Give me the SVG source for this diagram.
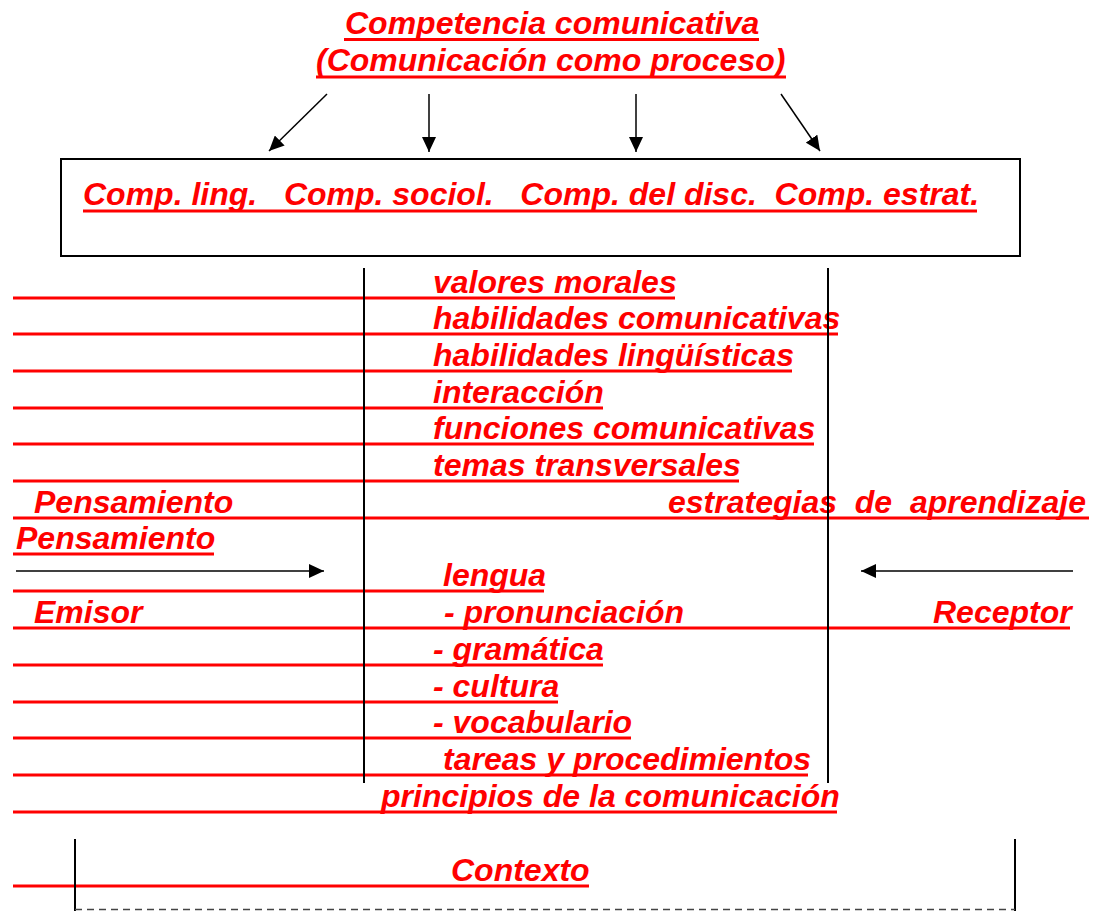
<svg xmlns="http://www.w3.org/2000/svg" width="1103" height="911" viewBox="0 0 1103 911">
<style>
.t{font-family:"Liberation Sans",Arial,sans-serif;font-weight:bold;font-style:italic;font-size:32px;fill:#ff0000}
.u{stroke:#ff0000;stroke-width:3;fill:none}
.k{stroke:#000;stroke-width:2;fill:none}
.a{stroke:#000;stroke-width:1.5;fill:none;marker-end:url(#ah)}
</style>
<defs>
<marker id="ah" markerUnits="userSpaceOnUse" markerWidth="15" markerHeight="14" refX="15" refY="7" orient="auto">
<path d="M0,0 L15,7 L0,14 z" fill="#000"/>
</marker>
</defs>
<rect width="1103" height="911" fill="#fff"/>
<g id="title">
<text class="t" x="345" y="34">Competencia comunicativa</text>
<line class="u" x1="344" y1="39.5" x2="759" y2="39.5"/>
<text class="t" x="316" y="71">(Comunicación como proceso)</text>
<line class="u" x1="316" y1="77" x2="786" y2="77"/>
</g>
<g id="components">
<rect class="k" x="61" y="159" width="959" height="97"/>
<text class="t" x="83" y="205" xml:space="preserve">Comp. ling.   Comp. sociol.   Comp. del disc.  Comp. estrat.</text>
<line class="u" x1="83" y1="211" x2="977" y2="211"/>
</g>
<g id="rows">
<line class="u" x1="13" y1="298" x2="675" y2="298"/>
<text class="t" x="433" y="293">valores morales</text>
<line class="u" x1="13" y1="334" x2="838" y2="334"/>
<text class="t" x="433" y="329">habilidades comunicativas</text>
<line class="u" x1="13" y1="371" x2="792" y2="371"/>
<text class="t" x="433" y="366">habilidades lingüísticas</text>
<line class="u" x1="13" y1="408" x2="603" y2="408"/>
<text class="t" x="433" y="403">interacción</text>
<line class="u" x1="13" y1="444" x2="814" y2="444"/>
<text class="t" x="433" y="439">funciones comunicativas</text>
<line class="u" x1="13" y1="481" x2="739" y2="481"/>
<text class="t" x="433" y="476">temas transversales</text>
<line class="u" x1="13" y1="518" x2="1089" y2="518"/>
<text class="t" x="34" y="513">Pensamiento</text>
<text class="t" x="668" y="513" xml:space="preserve">estrategias  de  aprendizaje</text>
<line class="u" x1="13" y1="554" x2="214" y2="554"/>
<text class="t" x="16" y="549">Pensamiento</text>
<line class="u" x1="13" y1="591" x2="544" y2="591"/>
<text class="t" x="443" y="586">lengua</text>
<line class="u" x1="13" y1="628" x2="1070" y2="628"/>
<text class="t" x="34" y="623">Emisor</text>
<text class="t" x="444" y="623">- pronunciación</text>
<text class="t" x="933" y="623">Receptor</text>
<line class="u" x1="13" y1="665" x2="603" y2="665"/>
<text class="t" x="433" y="660">- gramática</text>
<line class="u" x1="13" y1="702" x2="558" y2="702"/>
<text class="t" x="433" y="697">- cultura</text>
<line class="u" x1="13" y1="738" x2="631" y2="738"/>
<text class="t" x="433" y="733">- vocabulario</text>
<line class="u" x1="13" y1="775" x2="808" y2="775"/>
<text class="t" x="443" y="770">tareas y procedimientos</text>
<line class="u" x1="13" y1="812" x2="837" y2="812"/>
<text class="t" x="381" y="807">principios de la comunicación</text>
</g>
<g id="context">
<line class="u" x1="13" y1="886" x2="589" y2="886"/>
<text class="t" x="451" y="881">Contexto</text>
<line class="k" x1="75" y1="839" x2="75" y2="911"/>
<line class="k" x1="1015" y1="839" x2="1015" y2="911"/>
<line x1="75" y1="909.5" x2="1015" y2="909.5" stroke="#444" stroke-width="1.5" stroke-dasharray="7,5"/>
</g>
<g id="dividers">
<line class="k" x1="364" y1="268" x2="364" y2="783"/>
<line class="k" x1="828" y1="268" x2="828" y2="783"/>
</g>
<g id="connectors">
<line class="a" x1="327" y1="94" x2="269" y2="151"/>
<line class="a" x1="429" y1="94" x2="429" y2="152"/>
<line class="a" x1="636" y1="94" x2="636" y2="152"/>
<line class="a" x1="781" y1="94" x2="820" y2="151"/>
<line class="a" x1="16" y1="571" x2="324" y2="571"/>
<line class="a" x1="1073" y1="571" x2="861" y2="571"/>
</g>
</svg>
